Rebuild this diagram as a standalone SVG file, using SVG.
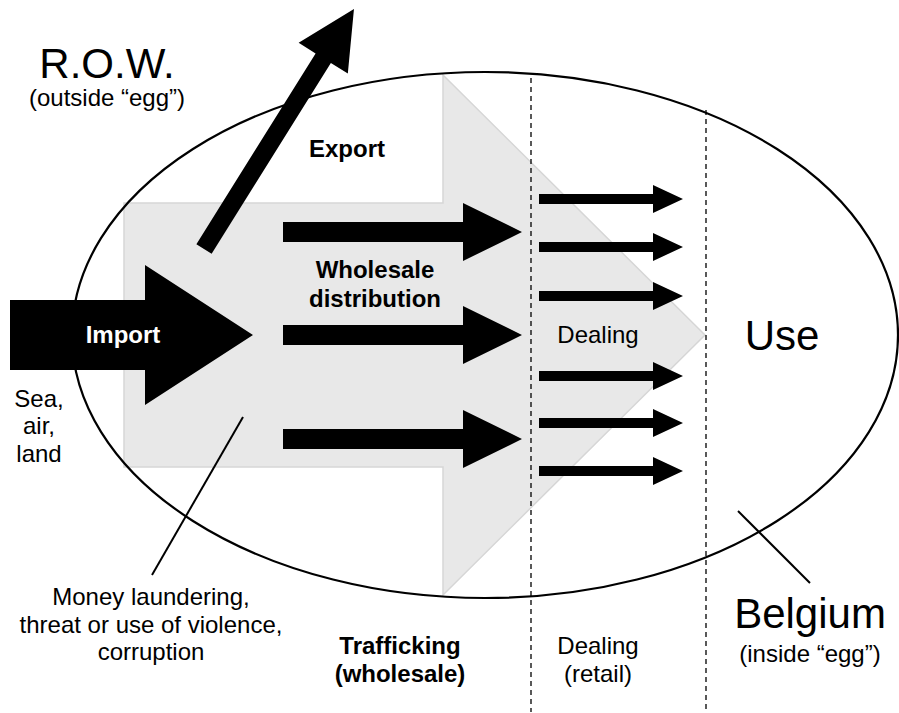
<svg xmlns="http://www.w3.org/2000/svg" width="899" height="713" viewBox="0 0 899 713">
  <style>
    text { font-family: "Liberation Sans", Arial, sans-serif; fill: #000; }
    .t { font-size: 24px; }
    .b { font-size: 24px; font-weight: bold; }
    .big { font-size: 42px; }
    .mid { text-anchor: middle; }
    .blk { fill: #000; }
    .dash { stroke: #000; stroke-width: 1.3; stroke-dasharray: 5 4; fill: none; }
    .lead { stroke: #000; stroke-width: 2; fill: none; }
  </style>
  <defs>
    <!-- thick arrow used for wholesale distribution -->
    <path id="arrowM" d="M0,-10 H180 V-29 L239,0 L180,29 V10 H0 Z"/>
    <!-- thin arrow used for retail dealing -->
    <path id="arrowS" d="M0,-5 H114 V-14 L144,0 L114,14 V5 H0 Z"/>
  </defs>
  <rect width="899" height="713" fill="#fff"/>

  <!-- large grey background arrow -->
  <g id="flow">
    <path d="M124,203 H443 V75 L705,335 L443,595 V467 H124 Z" fill="#e8e8e8" stroke="#d6d6d6" stroke-width="1.5"/>
  </g>

  <!-- the egg: national boundary -->
  <g id="egg">
    <ellipse cx="485" cy="335" rx="413" ry="263" fill="none" stroke="#000" stroke-width="2.2"/>
  </g>

  <!-- stage dividers -->
  <g id="dividers">
    <line class="dash" x1="531" y1="78" x2="531" y2="712"/>
    <line class="dash" x1="706" y1="110" x2="706" y2="712"/>
  </g>

  <g id="connectors">
    <!-- wholesale distribution arrows -->
    <use href="#arrowM" class="blk" transform="translate(283,232)"/>
    <use href="#arrowM" class="blk" transform="translate(283,335)"/>
    <use href="#arrowM" class="blk" transform="translate(283,439)"/>
    <!-- dealing arrows -->
    <use href="#arrowS" class="blk" transform="translate(539,199)"/>
    <use href="#arrowS" class="blk" transform="translate(539,247)"/>
    <use href="#arrowS" class="blk" transform="translate(539,296)"/>
    <use href="#arrowS" class="blk" transform="translate(539,376)"/>
    <use href="#arrowS" class="blk" transform="translate(539,423)"/>
    <use href="#arrowS" class="blk" transform="translate(539,471)"/>
    <!-- export arrow -->
    <path class="blk" d="M0,-9 H225 V-29 L283,0 L225,29 V9 H0 Z" transform="translate(204,249) rotate(-58)"/>
    <!-- leader lines -->
    <line class="lead" x1="152" y1="575" x2="243" y2="417"/>
    <line class="lead" x1="738" y1="511" x2="810" y2="583"/>
  </g>

  <g id="import">
    <path class="blk" d="M10,300 H145 V265 L253,335 L145,405 V370 H10 Z"/>
    <text class="b mid" x="123" y="343" style="fill:#fff">Import</text>
  </g>

  <g id="row">
    <text class="big mid" x="107" y="78">R.O.W.</text>
    <text class="t mid" x="107" y="106">(outside “egg”)</text>
  </g>

  <g id="export">
    <text class="b mid" x="347" y="157">Export</text>
  </g>

  <g id="wholesale">
    <text class="b mid" x="375" y="278">Wholesale</text>
    <text class="b mid" x="375" y="307">distribution</text>
  </g>

  <g id="dealing">
    <text class="t mid" x="598" y="343">Dealing</text>
  </g>

  <g id="use">
    <text class="big mid" x="782" y="350">Use</text>
  </g>

  <g id="routes">
    <text class="t mid" x="39" y="407">Sea,</text>
    <text class="t mid" x="39" y="434">air,</text>
    <text class="t mid" x="39" y="462">land</text>
  </g>

  <g id="crime">
    <text class="t mid" x="151" y="605">Money laundering,</text>
    <text class="t mid" x="151" y="633">threat or use of violence,</text>
    <text class="t mid" x="151" y="660">corruption</text>
  </g>

  <g id="trafficking">
    <text class="b mid" x="400" y="654">Trafficking</text>
    <text class="b mid" x="400" y="682">(wholesale)</text>
  </g>

  <g id="retail">
    <text class="t mid" x="598" y="654">Dealing</text>
    <text class="t mid" x="598" y="682">(retail)</text>
  </g>

  <g id="belgium">
    <text class="big mid" x="810" y="628">Belgium</text>
    <text class="t mid" x="810" y="662">(inside “egg”)</text>
  </g>
</svg>
